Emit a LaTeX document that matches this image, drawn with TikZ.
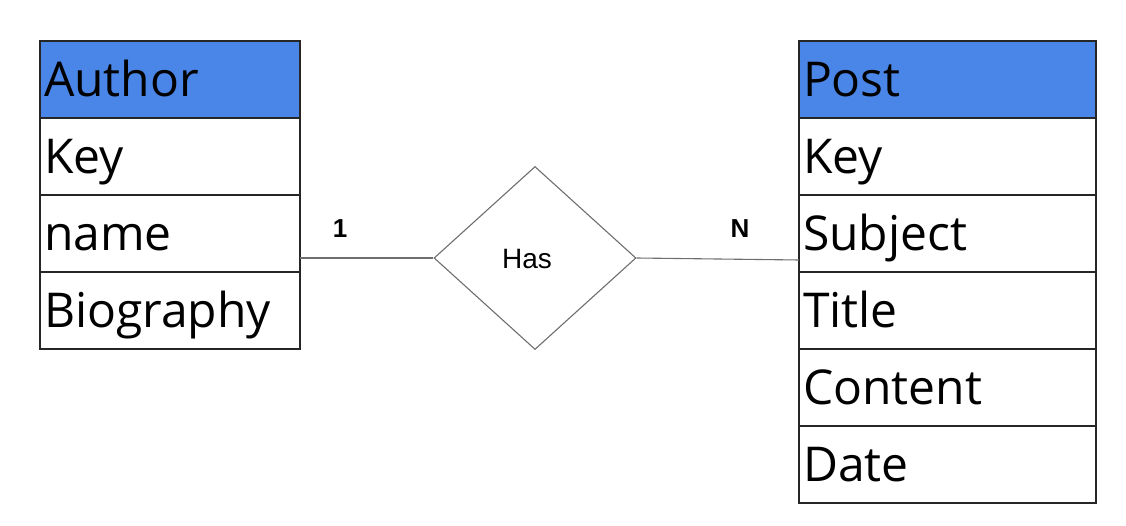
\documentclass[tikz,border=0pt]{standalone}
\usepackage{fontspec}
\setmainfont{Open Sans}
\newfontfamily\arialfont{Liberation Sans}
\usetikzlibrary{shapes.geometric,positioning}
\definecolor{headblue}{HTML}{4A86E8}
\definecolor{linegray}{HTML}{6E6E6E}

\begin{document}
\begin{tikzpicture}[x=1pt,y=-1pt,
    field/.style={draw=black!85,line width=1.3pt,outer sep=0pt,
      minimum height=77pt,inner xsep=4pt,inner ysep=0pt,align=left,
      text height=34pt,text depth=0pt,
      font=\fontsize{48}{48}\selectfont},
    authorfield/.style={field,text width=252pt},
    postfield/.style={field,text width=289pt},
    head/.style={fill=headblue},
    relation/.style={draw=linegray,line width=1.1pt,diamond,aspect=1.1,
      minimum width=202pt,minimum height=183pt,inner sep=0pt},
    conn/.style={draw=linegray,line width=1.1pt},
    card/.style={font=\arialfont\bfseries\fontsize{26}{26}\selectfont}]
  \useasboundingbox (0,0) rectangle (1126,526);
  % author table
  \node[authorfield,head,anchor=north west] (author) at (40,41) {Author};
  \node[authorfield,below=0pt of author] (akey) {Key};
  \node[authorfield,below=0pt of akey] (aname) {name};
  \node[authorfield,below=0pt of aname] (abio) {Biography};
  % post table
  \node[postfield,head,anchor=north west] (post) at (799,41) {Post};
  \node[postfield,below=0pt of post] (pkey) {Key};
  \node[postfield,below=0pt of pkey] (psubject) {Subject};
  \node[postfield,below=0pt of psubject] (ptitle) {Title};
  \node[postfield,below=0pt of ptitle] (pcontent) {Content};
  \node[postfield,below=0pt of pcontent] (pdate) {Date};
  %%
  \node[relation] (has) at (535,258) {};
  \node[font=\arialfont\fontsize{28}{28}\selectfont] (hastext) at (527,259) {Has};
  \node[card] (one) at (340,229) {1};
  \node[card] (many) at (740,229) {N};
  \draw[conn] (aname.east |- has.west) -- (has.west);
  \draw[conn] (has.east) -- ([yshift=-2pt]psubject.west |- has.east);
\end{tikzpicture}
\end{document}
